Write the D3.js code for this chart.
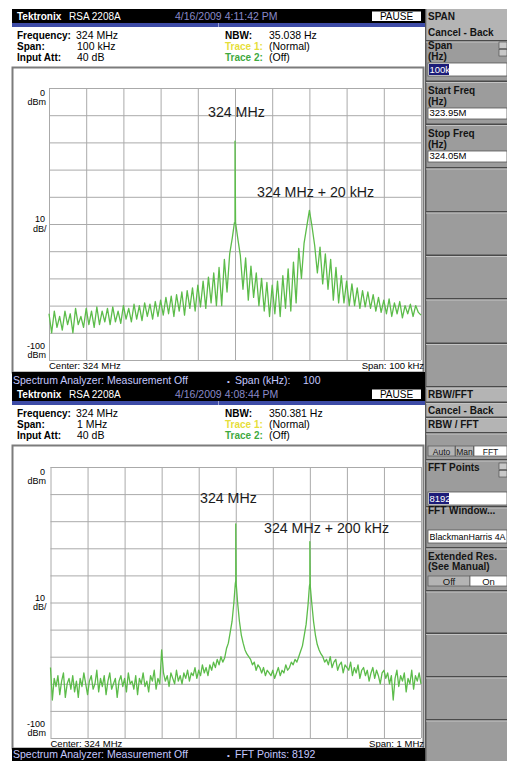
<!DOCTYPE html>
<html>
<head>
<meta charset="utf-8">
<script src="https://cdn.jsdelivr.net/npm/d3@7"></script>
<style>
  body { margin: 0; background: #fff; }
  svg text { font-family: "Liberation Sans", Arial, sans-serif; }
</style>
</head>
<body>
<svg id="chart" width="507" height="761"></svg>
<script>
// ---- values ----
var dbTicks = [0, -10, -20, -30, -40, -50, -60, -70, -80, -90, -100];      // dBm, 10 dB/div
var topFreqTicks = [-50, -40, -30, -20, -10, 0, 10, 20, 30, 40, 50];        // kHz from 324 MHz
var bottomFreqTicks = [-500, -400, -300, -200, -100, 0, 100, 200, 300, 400, 500];

// top trace: span 100 kHz, one sample every 5/7 kHz (lobe peak / null)
var topStartKHz = -50;
var topStepKHz = 5 / 7;
var topLevels = [
  -83, -90, -82, -88, -84, -89, -82, -87, -83, -90,
  -81, -87, -84, -88, -81, -87, -82, -88, -80.5, -87,
  -82, -86, -81, -87, -80.5, -86, -82, -86.5, -80, -85,
  -81, -86, -79.5, -85, -80, -85.5, -79, -84, -79.5, -85,
  -78.5, -84, -78, -83.5, -77, -83, -76.5, -84, -76, -82,
  -75, -83.5, -74.5, -81, -73.5, -82, -72.5, -80.5, -71, -81,
  -69.5, -79, -68, -80, -66, -80, -63, -75, -61, -55,
  -49.5, -55, -61.5, -74, -62.5, -78, -65.5, -77, -68, -80,
  -70, -82, -71.5, -84, -72.5, -83, -71, -84, -69, -81,
  -66.5, -82, -64, -79, -59, -70, -57, -51, -45, -51,
  -58, -68, -58.5, -72, -61, -74, -63, -78, -66, -79,
  -69, -79, -71, -80, -72, -80, -73.5, -81, -74.5, -80.5,
  -75, -81, -76, -82, -77, -82.5, -78, -83, -77.5, -84,
  -79, -83, -78.5, -84.5, -80, -83, -79.5, -84, -80, -82.5,
  -83.5
];
var topSpikes = [[-0.15, -49.5], [0, -19.5], [0.15, -49.5]];

// bottom trace: span 1 MHz, one sample every 5 kHz
var bottomStartKHz = -500;
var bottomStepKHz = 5;
var bottomLevels = [
  -74, -86, -78, -81, -77, -84, -79, -76, -85, -80, -78, -82, -77, -83, -79, -85, -78, -81, -76, -80,
  -84, -79, -77, -82, -80, -75, -83, -78, -81, -77, -84, -79, -76, -82, -80, -78, -85, -79, -77, -81,
  -78, -83, -76, -80, -79, -82, -77, -84, -78, -80, -76, -81, -79, -83, -77, -79, -75, -82, -78, -80,
  -67.5,
  -76, -79, -77, -81, -76, -78, -80, -75, -79, -77,
  -80, -76, -78, -75, -79, -76, -77, -74, -78, -75,
  -77, -73, -76, -74, -77, -73, -75, -72, -74, -71,
  -73, -70, -72, -70.5,
  -67, -65, -61, -57, -50, -42, -50, -57, -62, -65, -67.5, -69, -70,
  -71, -73, -72, -75, -73, -74, -76, -74, -77, -75, -76,
  -77, -75, -78, -76, -74, -77, -75, -76, -73, -75, -74, -72,
  -73, -71, -72, -70,
  -68, -66, -62, -58, -51, -43, -50, -57, -62, -65.5, -67.5, -69,
  -70, -72, -71, -73, -70, -74, -72, -71, -75, -73, -72, -76, -73, -74,
  -75, -72, -77, -74, -76, -73, -78, -75, -74, -77, -75, -79, -76, -74, -78, -75, -77, -80, -76, -75,
  -78, -76, -80, -77, -86, -78, -75, -81, -77, -79, -76, -83, -78, -80, -75, -82, -77, -79, -76, -80
];
var bottomSpikes = [[-1.2, -43], [0, -21], [1.2, -43], [198.8, -44], [200, -27.5], [201.2, -44]];

var panels = [
  {
    y0: 9, date: '4/16/2009 4:11:42 PM', span: '100 kHz', nbw: '35.038 Hz',
    frameTop: 67, frameBottom: 372, statusH: 15,
    left: 49, right: 421, plotTop: 88, plotBottom: 360,
    domain: [-50, 50], ticks: topFreqTicks,
    start: topStartKHz, step: topStepKHz, levels: topLevels, spikes: topSpikes,
    spanLabel: 'Span: 100 kHz', statusKey: 'Span (kHz):', statusVal: '100', statusValX: 303,
    markers: [
      { label: '324 MHz', x: 208, y: 117 },
      { label: '324 MHz + 20 kHz', x: 257, y: 197 }
    ]
  },
  {
    y0: 387, date: '4/16/2009 4:08:44 PM', span: '1 MHz', nbw: '350.381 Hz',
    frameTop: 445, frameBottom: 748, statusH: 13,
    left: 50.5, right: 421, plotTop: 467, plotBottom: 738,
    domain: [-500, 500], ticks: bottomFreqTicks,
    start: bottomStartKHz, step: bottomStepKHz, levels: bottomLevels, spikes: bottomSpikes,
    spanLabel: 'Span: 1 MHz', statusKey: 'FFT Points:', statusVal: '8192', statusValX: 292,
    markers: [
      { label: '324 MHz', x: 200, y: 503 },
      { label: '324 MHz + 200 kHz', x: 264, y: 533 }
    ]
  }
];

var svg = d3.select('#chart');

function txt(g, x, y, s, size, bold, fill, anchor) {
  return g.append('text')
    .attr('x', x).attr('y', y)
    .attr('font-size', size)
    .attr('font-weight', bold ? 'bold' : 'normal')
    .attr('fill', fill || '#000')
    .attr('text-anchor', anchor || 'start')
    .text(s);
}

function drawPanel(p) {
  var g = svg.append('g');
  var y0 = p.y0;

  // title bar
  g.append('rect').attr('x', 12).attr('y', y0).attr('width', 413).attr('height', 14).attr('fill', '#000');
  txt(g, 17, y0 + 10.5, 'Tektronix', 10, true, '#fff');
  txt(g, 69, y0 + 10.5, 'RSA 2208A', 10, false, '#fff');
  txt(g, 175, y0 + 10.5, p.date, 10.5, false, '#8a8ac8');
  g.append('rect').attr('x', 372).attr('y', y0 + 2.5).attr('width', 49).attr('height', 9.5).attr('fill', '#fff');
  txt(g, 396.5, y0 + 11, 'PAUSE', 10, false, '#000', 'middle');
  g.append('rect').attr('x', 12).attr('y', y0 + 14).attr('width', 413).attr('height', 4).attr('fill', '#3d4ba6');
  g.append('rect').attr('x', 218).attr('y', y0 + 14).attr('width', 1).attr('height', 4).attr('fill', '#9aa0d0');

  // settings block
  txt(g, 17, y0 + 30, 'Frequency:', 10, true);
  txt(g, 76, y0 + 30, '324 MHz', 10.5);
  txt(g, 17, y0 + 41, 'Span:', 10, true);
  txt(g, 77, y0 + 41, p.span, 10.5);
  txt(g, 17, y0 + 52, 'Input Att:', 10, true);
  txt(g, 77, y0 + 52, '40 dB', 10.5);
  txt(g, 225, y0 + 30, 'NBW:', 10, true);
  txt(g, 269, y0 + 30, p.nbw, 10.5);
  txt(g, 225, y0 + 41, 'Trace 1:', 10, true, '#e6de3a');
  txt(g, 269, y0 + 41, '(Normal)', 10.5);
  txt(g, 225, y0 + 52, 'Trace 2:', 10, true, '#3faa3f');
  txt(g, 269, y0 + 52, '(Off)', 10.5);

  // display window
  g.append('rect').attr('x', 12.5).attr('y', p.frameTop + 0.5)
    .attr('width', 411).attr('height', p.frameBottom - p.frameTop)
    .attr('fill', '#fff').attr('stroke', '#7c7c7c').attr('stroke-width', 2);

  var x = d3.scaleLinear().domain(p.domain).range([p.left, p.right]);
  var y = d3.scaleLinear().domain([0, -100]).range([p.plotTop, p.plotBottom]);

  g.append('g')
    .attr('transform', 'translate(0,' + p.plotBottom + ')')
    .call(d3.axisBottom(x).tickValues(p.ticks).tickSize(-(p.plotBottom - p.plotTop)).tickFormat(''))
    .call(function (a) { a.select('.domain').remove(); })
    .call(function (a) { a.selectAll('line').attr('stroke', '#aaaaaa'); });
  g.append('g')
    .attr('transform', 'translate(' + p.left + ',0)')
    .call(d3.axisLeft(y).tickValues(dbTicks).tickSize(-(p.right - p.left)).tickFormat(''))
    .call(function (a) { a.select('.domain').remove(); })
    .call(function (a) { a.selectAll('line').attr('stroke', '#aaaaaa'); });

  // level labels
  txt(g, 45, y(0) + 7.5, '0', 9, false, '#000', 'end');
  txt(g, 46, y(0) + 17, 'dBm', 9, false, '#000', 'end');
  txt(g, 45, y(-50) - 2, '10', 9, false, '#000', 'end');
  txt(g, 46.5, y(-50) + 7.5, 'dB/', 9, false, '#000', 'end');
  txt(g, 45, y(-100) - 11.5, '-100', 9, false, '#000', 'end');
  txt(g, 46, y(-100) - 2, 'dBm', 9, false, '#000', 'end');

  txt(g, p.left, p.plotBottom + 9, 'Center: 324 MHz', 9.5);
  txt(g, 424, p.plotBottom + 9, p.spanLabel, 9.5, false, '#000', 'end');

  // trace
  var pts = p.levels.map(function (v, i) { return [p.start + i * p.step, v]; })
    .concat(p.spikes)
    .sort(function (a, b) { return a[0] - b[0]; });
  var line = d3.line()
    .x(function (d) { return x(d[0]); })
    .y(function (d) { return y(d[1]); });
  g.append('path')
    .datum(pts)
    .attr('d', line)
    .attr('fill', 'none')
    .attr('stroke', '#5cbc4a')
    .attr('stroke-width', 1.3)
    .attr('stroke-linejoin', 'round');

  // annotations
  p.markers.forEach(function (m) {
    g.append('text')
      .attr('x', m.x).attr('y', m.y)
      .attr('font-size', 14.2)
      .attr('font-family', '"DejaVu Sans", sans-serif')
      .attr('fill', '#1c1c1c')
      .text(m.label);
  });

  // status line
  var sy = p.frameBottom;
  g.append('rect').attr('x', 12).attr('y', sy).attr('width', 413).attr('height', p.statusH).attr('fill', '#000');
  txt(g, 13, sy + p.statusH - 3, 'Spectrum Analyzer: Measurement Off', 10.5, false, '#c4c8ff');
  txt(g, 227, sy + p.statusH - 3.5, '\u2022', 8, false, '#c4c8ff');
  txt(g, 235, sy + p.statusH - 3, p.statusKey, 10.5, false, '#c4c8ff');
  txt(g, p.statusValX, sy + p.statusH - 3, p.statusVal, 10.5, false, '#c4c8ff');
}

panels.forEach(drawPanel);

// ---- soft-key menu on the right ----
var side = svg.append('g');
side.append('rect').attr('x', 425).attr('y', 9).attr('width', 82).attr('height', 752).attr('fill', '#9c9c9c');
side.append('rect').attr('x', 425).attr('y', 9).attr('width', 1.5).attr('height', 752).attr('fill', '#5a5a5a');

function sep(yy) {
  side.append('rect').attr('x', 426).attr('y', yy).attr('width', 81).attr('height', 1.5).attr('fill', '#4a4a4a');
  side.append('rect').attr('x', 426).attr('y', yy + 1.5).attr('width', 81).attr('height', 1).attr('fill', '#c4c4c4');
}
function box(yy, h, s, hiW) {
  side.append('rect').attr('x', 428).attr('y', yy).attr('width', 79).attr('height', h)
    .attr('fill', '#fff').attr('stroke', '#555').attr('stroke-width', 0.8);
  if (hiW) {
    side.append('rect').attr('x', 429).attr('y', yy + 1).attr('width', hiW).attr('height', h - 2).attr('fill', '#1c1c78');
  }
  var t = txt(side, 429.5, yy + h - 3, s, 9.5, false, hiW ? '#fff' : '#000');
  if (s.length > 12) t.attr('font-size', 8.6).attr('textLength', 76).attr('lengthAdjust', 'spacingAndGlyphs');
}
function arrows(yy) {
  side.append('rect').attr('x', 499).attr('y', yy).attr('width', 8).attr('height', 6.5).attr('fill', '#c8c8c8').attr('stroke', '#444').attr('stroke-width', 0.6);
  side.append('rect').attr('x', 499).attr('y', yy + 7.5).attr('width', 8).attr('height', 6.5).attr('fill', '#c8c8c8').attr('stroke', '#444').attr('stroke-width', 0.6);
}

// top menu: SPAN
side.append('rect').attr('x', 426.5).attr('y', 9).attr('width', 80.5).attr('height', 31).attr('fill', '#b4b4b4');
txt(side, 428, 20, 'SPAN', 10, true, '#141414');
txt(side, 428, 36, 'Cancel - Back', 10, true, '#141414');
sep(40);
txt(side, 428, 49, 'Span', 10, true, '#141414');
txt(side, 428, 60, '(Hz)', 10, true, '#141414');
arrows(42);
box(63, 13, '100k', 20);
sep(80.5);
txt(side, 428, 94, 'Start Freq', 10, true, '#141414');
txt(side, 428, 105, '(Hz)', 10, true, '#141414');
box(108, 11, '323.95M');
sep(123.5);
txt(side, 428, 137, 'Stop Freq', 10, true, '#141414');
txt(side, 428, 148, '(Hz)', 10, true, '#141414');
box(151, 11, '324.05M');
[167, 211, 254.5, 298, 342.5].forEach(sep);

// bottom menu: RBW/FFT
side.append('rect').attr('x', 426.5).attr('y', 387).attr('width', 80.5).attr('height', 45).attr('fill', '#b4b4b4');
sep(386);
txt(side, 428, 397.5, 'RBW/FFT', 10, true, '#141414');
sep(401.5);
txt(side, 428, 413.5, 'Cancel - Back', 10, true, '#141414');
sep(416.5);
txt(side, 428, 427.5, 'RBW / FFT', 10, true, '#141414');
sep(432);
[['Auto', 428, 27, '#b4b4b4'], ['Man', 455.5, 18, '#b4b4b4'], ['FFT', 474, 33, '#fff']].forEach(function (t) {
  side.append('rect').attr('x', t[1]).attr('y', 446).attr('width', t[2]).attr('height', 10)
    .attr('fill', t[3]).attr('stroke', '#555').attr('stroke-width', 0.7);
  txt(side, t[1] + t[2] / 2, 454.5, t[0], 8.5, false, '#141414', 'middle');
});
sep(459);
txt(side, 428, 471, 'FFT Points', 10, true, '#141414');
arrows(463);
box(492, 13, '8192', 20);
sep(506);
txt(side, 428, 514, 'FFT Window...', 10, true, '#141414');
box(530, 13, 'BlackmanHarris 4A');
sep(547);
txt(side, 428, 560, 'Extended Res.', 10, true, '#141414');
txt(side, 428, 569.5, '(See Manual)', 10, true, '#141414');
side.append('rect').attr('x', 428).attr('y', 576).attr('width', 42).attr('height', 10).attr('fill', '#b4b4b4').attr('stroke', '#555').attr('stroke-width', 0.7);
txt(side, 449, 584.5, 'Off', 9.5, false, '#141414', 'middle');
side.append('rect').attr('x', 470).attr('y', 576).attr('width', 37).attr('height', 10).attr('fill', '#fff').attr('stroke', '#555').attr('stroke-width', 0.7);
txt(side, 488.5, 584.5, 'On', 9.5, false, '#141414', 'middle');
[590, 632.5, 676, 719].forEach(sep);
</script>
</body>
</html>
